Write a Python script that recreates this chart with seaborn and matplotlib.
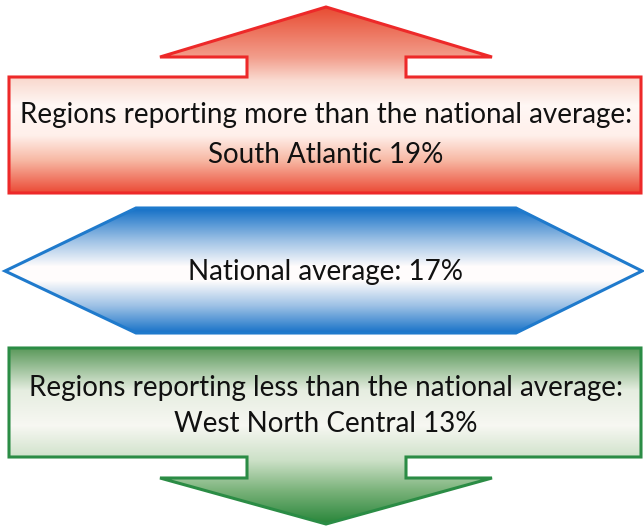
import numpy as np
import matplotlib
matplotlib.use("Agg")
import matplotlib.pyplot as plt
from matplotlib.patches import Polygon
import seaborn as sns

# data
above_label = "Regions reporting more than the national average:"
above_region = "South Atlantic"
above_pct = 19
national_label = "National average:"
national_pct = 17
below_label = "Regions reporting less than the national average:"
below_region = "West North Central"
below_pct = 13

W, H = 644, 527

sns.set_theme(style="white")
plt.rcParams['font.family'] = ['Lato', 'DejaVu Sans']

fig = plt.figure(figsize=(W / 100, H / 100), dpi=100)
ax = fig.add_axes([0, 0, 1, 1])
ax.set_xlim(0, W)
ax.set_ylim(H, 0)
ax.axis('off')


def gradient_shape(verts, stops, edge):
    ys = np.arange(H)
    sy = [s[0] for s in stops]
    rgb = np.stack([np.interp(ys, sy, [s[1][k] for s in stops]) for k in range(3)], axis=1)
    img = np.repeat(rgb[:, None, :], 2, axis=1)
    poly = Polygon(verts, closed=True, facecolor='none', edgecolor=edge, lw=2.2, zorder=3)
    ax.add_patch(poly)
    im = ax.imshow(img, extent=(0, W, H, 0), aspect='auto', zorder=2, interpolation='bilinear')
    im.set_clip_path(poly)


# red up arrow
red_verts = [(9, 77), (247, 77), (247, 57), (160, 57), (326, 7), (492, 57),
             (406, 57), (406, 77), (641, 77), (641, 193), (9, 193)]
red_stops = [(7, (0.91, 0.30, 0.20)), (57, (0.95, 0.62, 0.55)), (80, (0.98, 0.86, 0.82)),
             (105, (1.0, 0.97, 0.96)), (135, (1.0, 0.94, 0.92)), (160, (0.97, 0.72, 0.64)),
             (193, (0.92, 0.28, 0.20))]
gradient_shape(red_verts, red_stops, (0.93, 0.16, 0.16))

# blue hexagon
blue_verts = [(5, 271), (136, 208), (516, 208), (642, 271), (516, 333), (136, 333)]
blue_stops = [(208, (0.08, 0.44, 0.78)), (240, (0.62, 0.76, 0.90)), (266, (1.0, 0.99, 0.99)),
              (280, (1.0, 0.99, 0.99)), (305, (0.62, 0.76, 0.90)), (333, (0.08, 0.44, 0.78))]
gradient_shape(blue_verts, blue_stops, (0.12, 0.48, 0.80))

# green down arrow
green_verts = [(9, 348), (641, 348), (641, 457), (406, 457), (406, 478), (492, 478),
               (326, 524), (160, 478), (247, 478), (247, 457), (9, 457)]
green_stops = [(348, (0.36, 0.60, 0.36)), (390, (0.90, 0.93, 0.88)), (425, (0.97, 0.97, 0.95)),
               (460, (0.80, 0.88, 0.78)), (490, (0.48, 0.70, 0.48)), (524, (0.15, 0.52, 0.22))]
gradient_shape(green_verts, green_stops, (0.17, 0.55, 0.27))

txt = dict(ha='center', va='center', fontsize=20, color='#111111', zorder=5)
ax.text(326, 115, above_label, **txt)
ax.text(326, 155, f"{above_region} {above_pct}%", **txt)
ax.text(326, 272, f"{national_label} {national_pct}%", **txt)
ax.text(326, 388, below_label, **txt)
ax.text(326, 424, f"{below_region} {below_pct}%", **txt)

fig.savefig("out.png", dpi=100, facecolor='white')
